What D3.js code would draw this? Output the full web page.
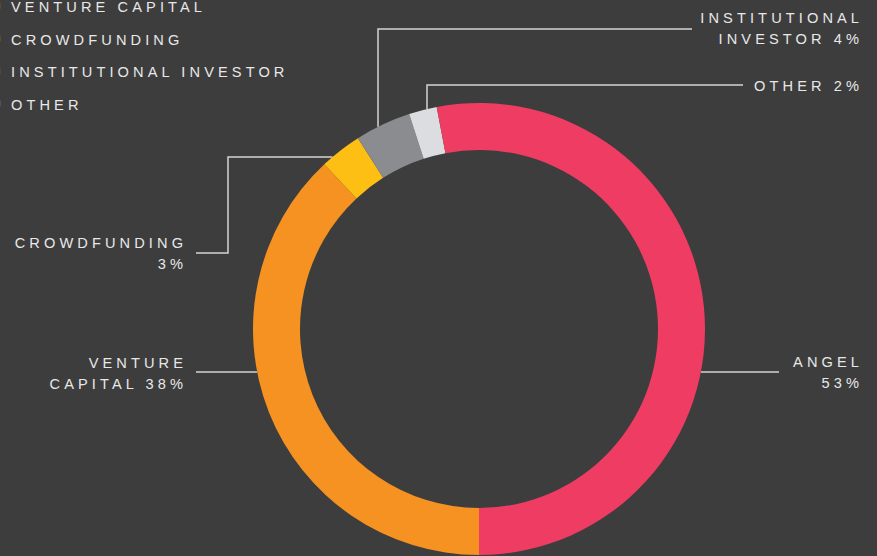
<!DOCTYPE html>
<html>
<head>
<meta charset="utf-8">
<script src="https://cdn.jsdelivr.net/npm/d3@7"></script>
<style>
  body { margin: 0; background: #3d3d3d; }
  svg { display: block; }
  text { font-family: "Liberation Sans", Arial, sans-serif; font-size: 14.6px; letter-spacing: 4.1px; fill: #e8e8e8; }
</style>
</head>
<body>
<svg width="877" height="556"></svg>
<script>
// funding sources, in drawing order (clockwise from the bottom)
var categories = ["VENTURE CAPITAL", "CROWDFUNDING", "INSTITUTIONAL INVESTOR", "OTHER", "ANGEL"];
var values = [38, 3, 4, 2, 53];
var colors = ["#f59222", "#fdbf14", "#8b8c8f", "#dcdde0", "#ef3c63"];
var legendOrder = ["ANGEL", "VENTURE CAPITAL", "CROWDFUNDING", "INSTITUTIONAL INVESTOR", "OTHER"];
var labelLines = [["VENTURE", "CAPITAL 38%"], ["CROWDFUNDING", "3%"], ["INSTITUTIONAL", "INVESTOR 4%"], ["OTHER 2%"], ["ANGEL", "53%"]];

var svg = d3.select("svg"),
    cx = 479, cy = 329,
    outerR = 226, innerR = 179,
    ls = 4.1;

var data = categories.map(function(c, i) { return {name: c, value: values[i], label: labelLines[i]}; });

var color = d3.scaleOrdinal().domain(categories).range(colors);

var pie = d3.pie()
    .sort(null)
    .value(function(d) { return d.value; })
    .startAngle(Math.PI)
    .endAngle(3 * Math.PI);

var arc = d3.arc().innerRadius(innerR).outerRadius(outerR);

var g = svg.append("g")
    .attr("transform", "translate(" + cx + "," + cy + ")");

g.selectAll("path.slice")
    .data(pie(data))
    .enter().append("path")
      .attr("class", "slice")
      .attr("d", arc)
      .attr("fill", function(d) { return color(d.data.name); });

// leader layout: horizontal leaders hit the ring at a given y, vertical ones at a given x
// side of ring: -1 left, 1 right
function ringX(y, side) { return cx + side * Math.sqrt(outerR * outerR - (y - cy) * (y - cy)); }
function ringY(x) { return cy - Math.sqrt(outerR * outerR - (x - cx) * (x - cx)); }

var leaders = {
  "VENTURE CAPITAL": { pts: [[196, 372], [ringX(372, -1), 372]], tx: 183, ty: 368 },
  "CROWDFUNDING": { pts: [[196, 253], [228, 253], [228, 157], [ringX(157, -1), 157]], tx: 183, ty: 248 },
  "INSTITUTIONAL INVESTOR": { pts: [[692, 29], [378, 29], [378, ringY(378)]], tx: 859, ty: 23 },
  "OTHER": { pts: [[743, 85], [427, 85], [427, ringY(427)]], tx: 859, ty: 91 },
  "ANGEL": { pts: [[779, 372], [ringX(372, 1), 372]], tx: 859, ty: 367 }
};

var line = d3.line();

svg.selectAll("path.leader")
    .data(data)
    .enter().append("path")
      .attr("class", "leader")
      .attr("d", function(d) { return line(leaders[d.name].pts); })
      .attr("fill", "none")
      .attr("stroke", "#d4d4d4")
      .attr("stroke-width", 1.5);

var labels = svg.selectAll("text.label")
    .data(data)
    .enter().append("text")
      .attr("class", "label")
      .attr("text-anchor", "end")
      .attr("x", function(d) { return leaders[d.name].tx + ls; })
      .attr("y", function(d) { return leaders[d.name].ty; });

labels.selectAll("tspan")
    .data(function(d) { return d.label.map(function(t, i) { return {t: t, i: i, x: leaders[d.name].tx + ls}; }); })
    .enter().append("tspan")
      .attr("x", function(d) { return d.x; })
      .attr("dy", function(d) { return d.i ? 21 : 0; })
      .text(function(d) { return d.t; });

// legend at top left (swatches and first row fall outside the frame)
var legend = svg.selectAll("g.legend")
    .data(legendOrder)
    .enter().append("g")
      .attr("class", "legend")
      .attr("transform", function(d, i) { return "translate(0," + (-20.5 + i * 32.5) + ")"; });

legend.append("rect")
    .attr("x", -14)
    .attr("y", -9)
    .attr("width", 14.4)
    .attr("height", 6)
    .attr("fill", function(d) { return color(d); })
    .attr("opacity", 0.35);

legend.append("text")
    .attr("x", 11)
    .attr("y", 0)
    .text(function(d) { return d; });
</script>
</body>
</html>
